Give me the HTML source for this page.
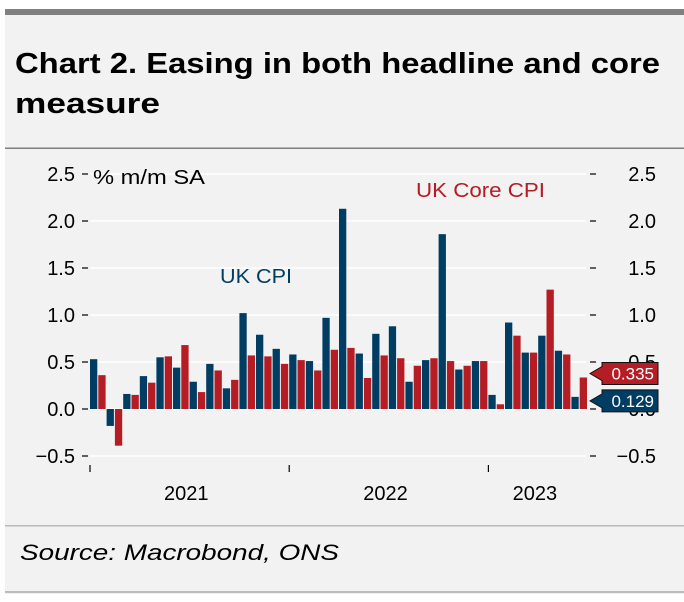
<!DOCTYPE html>
<html><head><meta charset="utf-8"><style>
html,body{margin:0;padding:0;background:#fff;}
svg{display:block;font-family:"Liberation Sans",sans-serif;}
</style></head><body>
<svg id="chart" width="684" height="602" viewBox="0 0 684 602">
<rect x="5" y="10" width="679" height="584" fill="#f2f2f2"/>
<rect x="5" y="9" width="679" height="6" fill="#808080"/>
<text x="15" y="73" font-size="29" font-weight="bold" fill="#000" textLength="645" lengthAdjust="spacingAndGlyphs">Chart 2.  Easing in both headline and core</text>
<text x="15" y="113" font-size="29" font-weight="bold" fill="#000" textLength="145" lengthAdjust="spacingAndGlyphs">measure</text>
<rect x="5" y="147.5" width="679" height="1.5" fill="#808080"/>
<g id="grid"></g>
<g id="bars"></g>
<g id="axes"></g>
<text x="93" y="184" font-size="20" fill="#000" textLength="112" lengthAdjust="spacingAndGlyphs">% m/m SA</text>
<text x="220" y="283" font-size="20" fill="#003d63" textLength="72" lengthAdjust="spacingAndGlyphs">UK CPI</text>
<text x="416" y="197" font-size="20" fill="#b51c24" textLength="129" lengthAdjust="spacingAndGlyphs">UK Core CPI</text>
<g id="tags"></g>
<rect x="5" y="525" width="679" height="1.5" fill="#bbb"/>
<text x="20" y="560" font-size="22" font-style="italic" fill="#000" textLength="319" lengthAdjust="spacingAndGlyphs">Source: Macrobond, ONS</text>
<rect x="5" y="591" width="679" height="2" fill="#bbb"/>
</svg>
<script>
const months = ["2021-01","2021-02","2021-03","2021-04","2021-05","2021-06","2021-07","2021-08","2021-09","2021-10","2021-11","2021-12","2022-01","2022-02","2022-03","2022-04","2022-05","2022-06","2022-07","2022-08","2022-09","2022-10","2022-11","2022-12","2023-01","2023-02","2023-03","2023-04","2023-05","2023-06"];
const cpi = [0.53,-0.18,0.16,0.35,0.55,0.44,0.29,0.48,0.22,1.02,0.79,0.64,0.58,0.51,0.97,2.13,0.59,0.80,0.88,0.29,0.52,1.86,0.42,0.51,0.15,0.92,0.60,0.78,0.62,0.129];
const core = [0.36,-0.39,0.15,0.28,0.56,0.68,0.18,0.41,0.31,0.57,0.56,0.48,0.52,0.41,0.63,0.65,0.33,0.57,0.54,0.46,0.54,0.51,0.46,0.51,0.05,0.78,0.60,1.27,0.58,0.335];
const yTicks = [-0.5,0,0.5,1,1.5,2,2.5];
const yTickLabels = ["\u22120.5","0.0","0.5","1.0","1.5","2.0","2.5"];
const years = ["2021","2022","2023"];
const yearStartIndex = [0,12,24];
const yearLabelIndex = [5.8,17.8,26.8];

const NS="http://www.w3.org/2000/svg";
function y(v){return 409 - v*94;}
function x(i){return 90 + i*16.6;}
function mk(tag,attrs,parent,text){const e=document.createElementNS(NS,tag);for(const k in attrs)e.setAttribute(k,attrs[k]);if(text!==undefined)e.textContent=text;parent.appendChild(e);return e;}
const grid=document.getElementById('grid'),bars=document.getElementById('bars'),axes=document.getElementById('axes'),tags=document.getElementById('tags');

yTicks.forEach((t,i)=>{
  const g=mk('line',{x1:90,x2:586,y1:y(t),y2:y(t),stroke:'#fff','stroke-width':1.5},grid);
  
  
  const lt=mk('line',{x1:82,x2:88,y1:y(t),y2:y(t),stroke:'#000','stroke-width':1.2},axes);
  
  
  const rt=mk('line',{x1:590,x2:596,y1:y(t),y2:y(t),stroke:'#000','stroke-width':1.2},axes);
  
  
  const l=mk('text',{x:75,y:y(t)+7,'font-size':20,'text-anchor':'end',fill:'#000'},axes,yTickLabels[i]);
  
  
  const r=mk('text',{x:656,y:y(t)+7,'font-size':20,'text-anchor':'end',fill:'#000'},axes,yTickLabels[i]);
  
  
});

months.forEach((m,i)=>{
  const v1=cpi[i],v2=core[i];
  const b1=mk('rect',{x:x(i),y:Math.min(y(v1),y(0)),width:7.3,height:Math.abs(y(v1)-y(0)),fill:'#003d63'},bars);
  
  
  const b2=mk('rect',{x:x(i)+8.3,y:Math.min(y(v2),y(0)),width:7.3,height:Math.abs(y(v2)-y(0)),fill:'#b51c24'},bars);
  
  
});

years.forEach((yr,i)=>{
  const tx=x(yearStartIndex[i]);
  const t=mk('line',{x1:tx,x2:tx,y1:465,y2:472,stroke:'#000','stroke-width':1.2},axes);
  
  
  const l=mk('text',{x:x(yearLabelIndex[i]),y:500,'font-size':20,'text-anchor':'middle',fill:'#000'},axes,yr);
  
  
});

function tag(v,color,name,dy){
  const cy=y(v)+dy;
  const g=mk('g',{},tags);
  
  
  mk('path',{d:`M590 ${cy} L602 ${cy-7} L602 ${cy-11} L658 ${cy-11} L658 ${cy+11} L602 ${cy+11} L602 ${cy+7} Z`,fill:color,stroke:'#111','stroke-width':1},g);
  mk('text',{x:654,y:cy+6,'font-size':17,'text-anchor':'end',fill:'#fff'},g,v.toFixed(3));
}
tag(core[core.length-1],'#b51c24','last-value-core-cpi',-4);
tag(cpi[cpi.length-1],'#003d63','last-value-cpi',4);
</script>
</body></html>
